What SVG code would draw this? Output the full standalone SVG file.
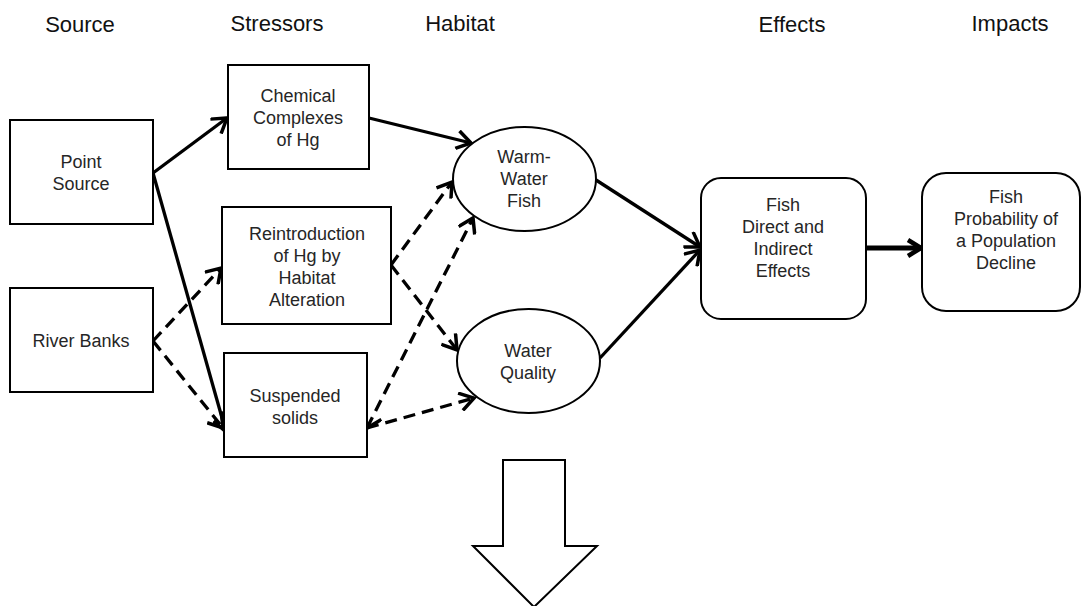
<svg xmlns="http://www.w3.org/2000/svg" width="1083" height="606" viewBox="0 0 1083 606">
<defs>
<marker id="ah" viewBox="0 0 20 20" refX="16" refY="10" markerWidth="20" markerHeight="20" markerUnits="userSpaceOnUse" orient="auto-start-reverse">
<path d="M2,1 L16,10 L2,19" fill="none" stroke="#000" stroke-width="3.5" stroke-dasharray="none" stroke-linejoin="miter"/>
</marker>
<marker id="ahb" viewBox="0 0 20 20" refX="16" refY="10" markerWidth="20" markerHeight="20" markerUnits="userSpaceOnUse" orient="auto">
<path d="M3,2 L16,10 L3,18" fill="none" stroke="#000" stroke-width="4.5" stroke-linejoin="miter"/>
</marker>
</defs>
<style>
.box{fill:#fff;stroke:#000;stroke-width:2}
.t{font-family:"Liberation Sans",Arial,sans-serif;font-size:18px;fill:#262626;text-anchor:middle}
.h{font-family:"Liberation Sans",Arial,sans-serif;font-size:22px;fill:#111;text-anchor:middle}
.c{fill:none;stroke:#000;stroke-width:3.3;marker-end:url(#ah)}
.d{stroke-dasharray:12 7}
</style>
<rect width="1083" height="606" fill="#fff"/>
<g id="headers">
<text class="h" x="80" y="32">Source</text>
<text class="h" x="277" y="31">Stressors</text>
<text class="h" x="460" y="31">Habitat</text>
<text class="h" x="792" y="32">Effects</text>
<text class="h" x="1010" y="31">Impacts</text>
</g>
<g id="connectors">
<path class="c" d="M153,173 L227,118"/>
<path class="c" d="M153,173 L226,432"/>
<path class="c d" d="M153,341 L221,268"/>
<path class="c d" d="M153,341 L223,428"/>
<path class="c" d="M369,118 L471,143"/>
<path class="c d" d="M391,265 L452,182"/>
<path class="c d" d="M391,265 L457,350"/>
<path class="c d" d="M367,428 L473,218" style="marker-start:url(#ah)"/>
<path class="c d" d="M367,428 L474,398"/>
<path class="c" d="M596,180 L700,247"/>
<path class="c" d="M600,358 L700,250"/>
<path class="c" d="M866,248 L921,248" style="stroke-width:5;marker-end:url(#ahb)"/>
</g>
<g id="point-source">
<rect class="box" x="10" y="120" width="143" height="104"/>
<text class="t" x="81" y="168">Point</text>
<text class="t" x="81" y="190">Source</text>
</g>
<g id="river-banks">
<rect class="box" x="10" y="288" width="143" height="104"/>
<text class="t" x="81" y="347">River Banks</text>
</g>
<g id="chemical">
<rect class="box" x="228" y="65" width="141" height="104"/>
<text class="t" x="298" y="102">Chemical</text>
<text class="t" x="298" y="124">Complexes</text>
<text class="t" x="298" y="146">of Hg</text>
</g>
<g id="reintroduction">
<rect class="box" x="222" y="207" width="169" height="117"/>
<text class="t" x="307" y="240">Reintroduction</text>
<text class="t" x="307" y="262">of Hg by</text>
<text class="t" x="307" y="284">Habitat</text>
<text class="t" x="307" y="306">Alteration</text>
</g>
<g id="suspended">
<rect class="box" x="224" y="353" width="143" height="104"/>
<text class="t" x="295" y="402">Suspended</text>
<text class="t" x="295" y="424">solids</text>
</g>
<g id="warm-water-fish">
<ellipse class="box" cx="524.5" cy="179" rx="71.5" ry="52"/>
<text class="t" x="524" y="163">Warm-</text>
<text class="t" x="524" y="185">Water</text>
<text class="t" x="524" y="207">Fish</text>
</g>
<g id="water-quality">
<ellipse class="box" cx="528.5" cy="361" rx="71.5" ry="52"/>
<text class="t" x="528" y="357">Water</text>
<text class="t" x="528" y="379">Quality</text>
</g>
<g id="fish-effects">
<rect class="box" x="701" y="178" width="165" height="141" rx="20" ry="20"/>
<text class="t" x="783" y="211">Fish</text>
<text class="t" x="783" y="233">Direct and</text>
<text class="t" x="783" y="255">Indirect</text>
<text class="t" x="783" y="277">Effects</text>
</g>
<g id="fish-impacts">
<rect class="box" x="922" y="173" width="158" height="138" rx="24" ry="24"/>
<text class="t" x="1006" y="203">Fish</text>
<text class="t" x="1006" y="225">Probability of</text>
<text class="t" x="1006" y="247">a Population</text>
<text class="t" x="1006" y="269">Decline</text>
</g>
<g id="down-arrow">
<polygon class="box" points="503,460 565,460 565,546 597,546 534,607 473,546 503,546"/>
</g>
</svg>
